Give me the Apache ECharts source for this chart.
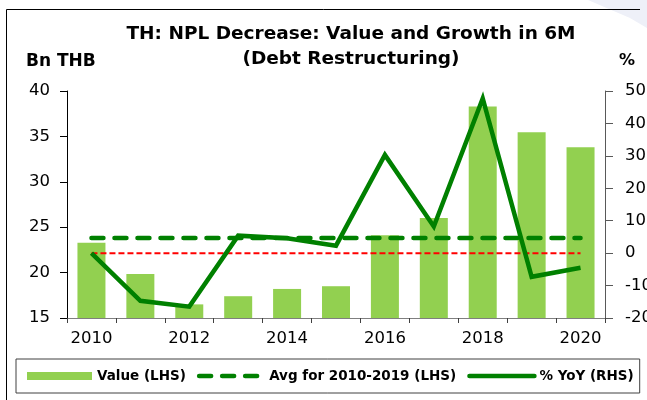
<!DOCTYPE html>
<html>
<head>
<meta charset="utf-8">
<title>TH NPL Decrease</title>
<script src="https://cdn.jsdelivr.net/npm/echarts@6/dist/echarts.min.js"></script>
</head>
<body style="margin:0;background:#fff">
<div id="main" style="width:647px;height:400px"></div>
<script type="text/javascript">
// data
var years = ['2010', '2011', '2012', '2013', '2014', '2015', '2016', '2017', '2018', '2019', '2020'];
var valueBn = [23.3, 19.85, 16.5, 17.4, 18.2, 18.5, 24.1, 26.0, 38.3, 35.45, 33.8];
var avgBn = [23.8, 23.8, 23.8, 23.8, 23.8, 23.8, 23.8, 23.8, 23.8, 23.8, 23.8];
var yoyPct = [0, -14.7, -16.5, 5.4, 4.6, 2.3, 30.3, 8.2, 47.7, -7.3, -4.5];
var zeroPct = [0, 0, 0, 0, 0, 0, 0, 0, 0, 0, 0];

var FONT = 'DejaVu Sans';
var myChart = echarts.init(document.getElementById('main'), null, { renderer: 'canvas' });

var option = {
  animation: false,
  backgroundColor: '#ffffff',
  grid: { left: 67, right: 42, top: 91, bottom: 82, containLabel: false, outerBoundsMode: 'none' },
  graphic: [
    // slide frame
    { type: 'polygon', silent: true, z: 0,
      shape: { points: [[588, 0], [647, 0], [647, 28], [630, 18]] },
      style: { fill: '#eef0f8' } },
    { type: 'line', silent: true, shape: { x1: 6.5, y1: 9.5, x2: 640, y2: 9.5 },
      style: { stroke: '#000', lineWidth: 1 } },
    { type: 'line', silent: true, shape: { x1: 6.5, y1: 9.5, x2: 6.5, y2: 400 },
      style: { stroke: '#000', lineWidth: 1 } },
    // title + axis units
    { type: 'text', x: 351, y: 22, silent: true,
      style: { text: 'TH: NPL Decrease: Value and Growth in 6M\n(Debt Restructuring)',
        fill: '#000', font: 'bold 18.5px "' + FONT + '"', align: 'center', lineHeight: 25 } },
    { type: 'text', x: 26, y: 53, silent: true,
      style: { text: 'Bn THB', fill: '#000', font: 'bold 17px "' + FONT + '"' } },
    { type: 'text', x: 619, y: 53, silent: true,
      style: { text: '%', fill: '#000', font: 'bold 16px "' + FONT + '"' } }
  ],
  legend: {
    left: 16, top: 359,
    width: 619,
    padding: [10, 6, 10, 11],
    itemGap: 11,
    itemWidth: 65,
    itemHeight: 8,
    borderColor: '#404040',
    borderWidth: 1,
    textStyle: { fontFamily: FONT, fontWeight: 'bold', fontSize: 13.5, color: '#000' },
    data: [
      { name: 'Value (LHS)', icon: 'rect' },
      { name: 'Avg for 2010-2019 (LHS)', itemStyle: { opacity: 0 },
        lineStyle: { width: 4.5, type: [12, 11], cap: 'round' } },
      { name: '% YoY (RHS)', itemStyle: { opacity: 0 },
        lineStyle: { width: 4.5, cap: 'round' } }
    ]
  },
  xAxis: {
    type: 'category',
    data: years,
    boundaryGap: true,
    axisLine: { onZero: false, lineStyle: { color: '#7f7f7f', width: 1 } },
    axisTick: { show: true, interval: 0, length: 5, lineStyle: { color: '#404040' } },
    axisLabel: { interval: 1, margin: 12, color: '#000', fontFamily: FONT, fontSize: 16.5 },
    splitLine: { show: false }
  },
  yAxis: [
    {
      type: 'value', min: 15, max: 40, interval: 5, position: 'left',
      axisLine: { show: true, lineStyle: { color: '#000', width: 1 } },
      axisTick: { show: true, length: 7, lineStyle: { color: '#000' } },
      axisLabel: { margin: 17, color: '#000', fontFamily: FONT, fontSize: 16.5 },
      splitLine: { show: false }
    },
    {
      type: 'value', min: -20, max: 50, interval: 10, position: 'right',
      axisLine: { show: true, lineStyle: { color: '#595959', width: 1 } },
      axisTick: { show: true, length: 8, lineStyle: { color: '#595959' } },
      axisLabel: { margin: 20, color: '#000', fontFamily: FONT, fontSize: 16.5 },
      splitLine: { show: false }
    }
  ],
  series: [
    {
      name: 'Value (LHS)', type: 'bar', yAxisIndex: 0, data: valueBn,
      barWidth: 28, itemStyle: { color: '#92D050' }, z: 1
    },
    {
      name: 'Avg for 2010-2019 (LHS)', type: 'line', yAxisIndex: 0, data: avgBn,
      symbol: 'none', z: 3,
      lineStyle: { color: '#008000', width: 4.5, type: [12, 11], cap: 'round' },
      itemStyle: { color: '#008000' }
    },
    {
      name: 'zero', type: 'line', yAxisIndex: 1, data: zeroPct,
      symbol: 'none', z: 4,
      lineStyle: { color: '#ff0000', width: 2, type: [6, 3] }
    },
    {
      name: '% YoY (RHS)', type: 'line', yAxisIndex: 1, data: yoyPct,
      symbol: 'none', z: 5,
      lineStyle: { color: '#008000', width: 4.5, join: 'miter' },
      itemStyle: { color: '#008000' }
    }
  ]
};
myChart.setOption(option);
</script>
</body>
</html>
